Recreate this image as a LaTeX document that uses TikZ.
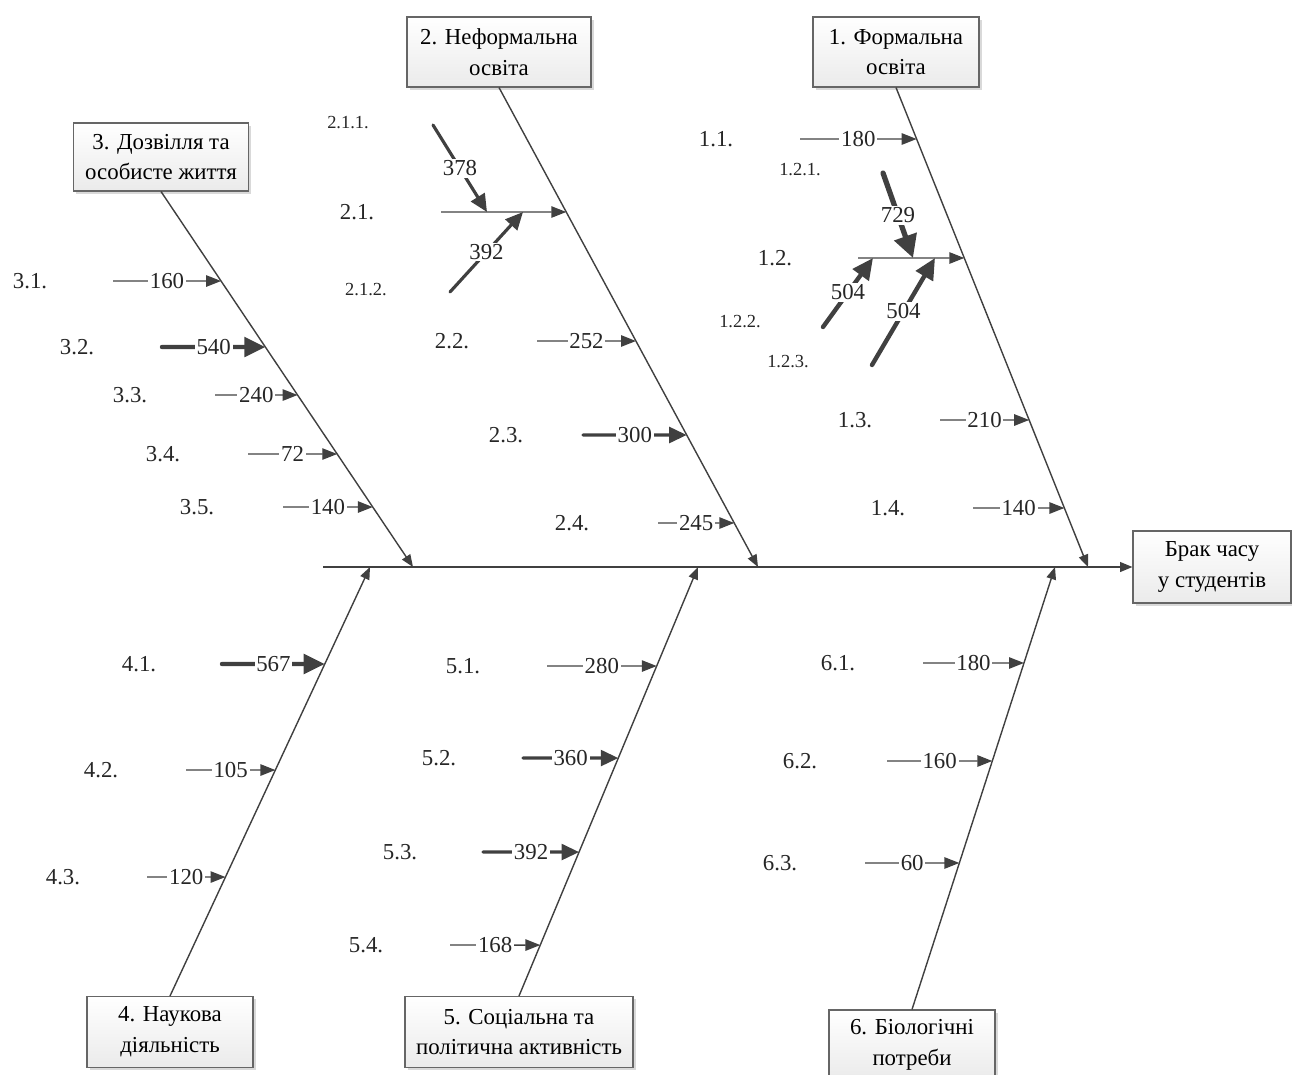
\documentclass[tikz,border=0pt]{standalone}
\usepackage{fontspec}
\setmainfont{Liberation Serif}
\usetikzlibrary{arrows.meta, shadows}
\definecolor{ink}{HTML}{404040}

\begin{document}
\begin{tikzpicture}[
  x=0.02cm, y=-0.02cm,
  cause/.style={draw=black!60, line width=0.6pt, top color=white, bottom color=black!8,
    drop shadow={shadow xshift=1.5pt, shadow yshift=-1.5pt, opacity=0.3},
    align=center, inner sep=0pt, font=\fontsize{13}{17.5}\selectfont},
  num/.style={font=\fontsize{13}{15}\selectfont, text=black!85},
  subnum/.style={font=\fontsize{10.5}{12}\selectfont, text=black!85},
  val/.style={midway, fill=white, inner sep=1pt, font=\fontsize{13}{15}\selectfont, text=black!85},
  bone/.style={draw=ink, line width=0.8pt, -{Triangle[length=7pt, width=5.5pt]}},
  minor/.style={draw=ink, line width=0.8pt, -{Triangle[length=8.5pt, width=6.5pt]}},
  medium/.style={draw=ink, line width=1.8pt, line cap=round, -{Triangle[length=10pt, width=9pt]}},
  major/.style={draw=ink, line width=2.5pt, line cap=round, -{Triangle[length=12pt, width=11pt]}},
  heavy/.style={draw=ink, line width=3pt, line cap=round, -{Triangle[length=13pt, width=13pt]}}
]
  \useasboundingbox (0,0) rectangle (1292,1075);

  % Effect and spine
  \node[cause, minimum width=3.16cm, minimum height=1.44cm] (eff) at (1212,567) {Брак часу\\у студентів};
  \coordinate (tail) at (323,567);
  \draw[bone, line width=1pt] (tail) -- (eff.west);

  % Category boxes
  \node[cause, minimum width=3.32cm, minimum height=1.4cm] (c1) at (896,52) {1. Формальна\\освіта};
  \node[cause, minimum width=3.68cm, minimum height=1.4cm] (c2) at (499,52) {2. Неформальна\\освіта};
  \node[cause, minimum width=3.5cm, minimum height=1.36cm] (c3) at (161,157) {3. Дозвілля та\\особисте життя};
  \node[cause, minimum width=3.32cm, minimum height=1.42cm] (c4) at (170,1032) {4. Наукова\\діяльність};
  \node[cause, minimum width=4.56cm, minimum height=1.42cm] (c5) at (519,1032) {5. Соціальна та\\політична активність};
  \node[cause, minimum width=3.32cm, minimum height=1.4cm] (c6) at (912,1045) {6. Біологічні\\потреби};

  % Where the bones meet the spine
  \coordinate (s1) at (1088,567);
  \coordinate (s2) at (758,567);
  \coordinate (s3) at (413,567);
  \coordinate (s4) at (370,567);
  \coordinate (s5) at (698,567);
  \coordinate (s6) at (1055,567);

  \draw[bone] (c1.south) -- (s1);
  \draw[bone] (c2.south) -- (s2);
  \draw[bone] (c3.south) -- (s3);
  \draw[bone] (c4.north) -- (s4);
  \draw[bone] (c5.north) -- (s5);
  \draw[bone] (c6.north) -- (s6);

  % 1. Formal education
  \node[num] (l11) at (716,139) {1.1.};
  \coordinate (a11) at (800,139);
  \coordinate (p11) at (intersection of c1.south--s1 and 0,139--100,139);
  \draw[minor] (a11) -- node[val] (v11) {180} (p11);

  \node[num] (l12) at (775,258) {1.2.};
  \coordinate (a12) at (858,258);
  \coordinate (p12) at (intersection of c1.south--s1 and 0,258--100,258);
  \draw[minor] (a12) -- (p12);

  \node[subnum] (l121) at (800,170) {1.2.1.};
  \coordinate (a121) at (883,173);
  \coordinate (t121) at (913,258);
  \draw[heavy] (a121) -- node[val] (v121) {729} (t121);

  \node[subnum] (l122) at (740,322) {1.2.2.};
  \coordinate (a122) at (823,327);
  \coordinate (t122) at (873,258);
  \draw[major] (a122) -- node[val] (v122) {504} (t122);

  \node[subnum] (l123) at (788,362) {1.2.3.};
  \coordinate (a123) at (872,365);
  \coordinate (t123) at (935,258);
  \draw[major] (a123) -- node[val] (v123) {504} (t123);

  \node[num] (l13) at (855,420) {1.3.};
  \coordinate (a13) at (940,420);
  \coordinate (p13) at (intersection of c1.south--s1 and 0,420--100,420);
  \draw[minor] (a13) -- node[val] (v13) {210} (p13);

  \node[num] (l14) at (888,508) {1.4.};
  \coordinate (a14) at (973,508);
  \coordinate (p14) at (intersection of c1.south--s1 and 0,508--100,508);
  \draw[minor] (a14) -- node[val] (v14) {140} (p14);

  % 2. Informal education
  \node[num] (l21) at (357,212) {2.1.};
  \coordinate (a21) at (441,212);
  \coordinate (p21) at (intersection of c2.south--s2 and 0,212--100,212);
  \draw[minor] (a21) -- (p21);

  \node[subnum] (l211) at (348,123) {2.1.1.};
  \coordinate (a211) at (433,125);
  \coordinate (t211) at (487,212);
  \draw[medium] (a211) -- node[val] (v211) {378} (t211);

  \node[subnum] (l212) at (366,290) {2.1.2.};
  \coordinate (a212) at (450,292);
  \coordinate (t212) at (523,212);
  \draw[medium] (a212) -- node[val] (v212) {392} (t212);

  \node[num] (l22) at (452,341) {2.2.};
  \coordinate (a22) at (537,341);
  \coordinate (p22) at (intersection of c2.south--s2 and 0,341--100,341);
  \draw[minor] (a22) -- node[val] (v22) {252} (p22);

  \node[num] (l23) at (506,435) {2.3.};
  \coordinate (a23) at (583,435);
  \coordinate (p23) at (intersection of c2.south--s2 and 0,435--100,435);
  \draw[medium] (a23) -- node[val] (v23) {300} (p23);

  \node[num] (l24) at (572,523) {2.4.};
  \coordinate (a24) at (658,523);
  \coordinate (p24) at (intersection of c2.south--s2 and 0,523--100,523);
  \draw[minor] (a24) -- node[val] (v24) {245} (p24);

  % 3. Leisure and personal life
  \node[num] (l31) at (30,281) {3.1.};
  \coordinate (a31) at (113,281);
  \coordinate (p31) at (intersection of c3.south--s3 and 0,281--100,281);
  \draw[minor] (a31) -- node[val] (v31) {160} (p31);

  \node[num] (l32) at (77,347) {3.2.};
  \coordinate (a32) at (162,347);
  \coordinate (p32) at (intersection of c3.south--s3 and 0,347--100,347);
  \draw[major] (a32) -- node[val] (v32) {540} (p32);

  \node[num] (l33) at (130,395) {3.3.};
  \coordinate (a33) at (215,395);
  \coordinate (p33) at (intersection of c3.south--s3 and 0,395--100,395);
  \draw[minor] (a33) -- node[val] (v33) {240} (p33);

  \node[num] (l34) at (163,454) {3.4.};
  \coordinate (a34) at (248,454);
  \coordinate (p34) at (intersection of c3.south--s3 and 0,454--100,454);
  \draw[minor] (a34) -- node[val] (v34) {72} (p34);

  \node[num] (l35) at (197,507) {3.5.};
  \coordinate (a35) at (283,507);
  \coordinate (p35) at (intersection of c3.south--s3 and 0,507--100,507);
  \draw[minor] (a35) -- node[val] (v35) {140} (p35);

  % 4. Research activity
  \node[num] (l41) at (139,664) {4.1.};
  \coordinate (a41) at (222,664);
  \coordinate (p41) at (intersection of c4.north--s4 and 0,664--100,664);
  \draw[major] (a41) -- node[val] (v41) {567} (p41);

  \node[num] (l42) at (101,770) {4.2.};
  \coordinate (a42) at (186,770);
  \coordinate (p42) at (intersection of c4.north--s4 and 0,770--100,770);
  \draw[minor] (a42) -- node[val] (v42) {105} (p42);

  \node[num] (l43) at (63,877) {4.3.};
  \coordinate (a43) at (147,877);
  \coordinate (p43) at (intersection of c4.north--s4 and 0,877--100,877);
  \draw[minor] (a43) -- node[val] (v43) {120} (p43);

  % 5. Social and political activity
  \node[num] (l51) at (463,666) {5.1.};
  \coordinate (a51) at (547,666);
  \coordinate (p51) at (intersection of c5.north--s5 and 0,666--100,666);
  \draw[minor] (a51) -- node[val] (v51) {280} (p51);

  \node[num] (l52) at (439,758) {5.2.};
  \coordinate (a52) at (523,758);
  \coordinate (p52) at (intersection of c5.north--s5 and 0,758--100,758);
  \draw[medium] (a52) -- node[val] (v52) {360} (p52);

  \node[num] (l53) at (400,852) {5.3.};
  \coordinate (a53) at (483,852);
  \coordinate (p53) at (intersection of c5.north--s5 and 0,852--100,852);
  \draw[medium] (a53) -- node[val] (v53) {392} (p53);

  \node[num] (l54) at (366,945) {5.4.};
  \coordinate (a54) at (450,945);
  \coordinate (p54) at (intersection of c5.north--s5 and 0,945--100,945);
  \draw[minor] (a54) -- node[val] (v54) {168} (p54);

  % 6. Biological needs
  \node[num] (l61) at (838,663) {6.1.};
  \coordinate (a61) at (923,663);
  \coordinate (p61) at (intersection of c6.north--s6 and 0,663--100,663);
  \draw[minor] (a61) -- node[val] (v61) {180} (p61);

  \node[num] (l62) at (800,761) {6.2.};
  \coordinate (a62) at (887,761);
  \coordinate (p62) at (intersection of c6.north--s6 and 0,761--100,761);
  \draw[minor] (a62) -- node[val] (v62) {160} (p62);

  \node[num] (l63) at (780,863) {6.3.};
  \coordinate (a63) at (865,863);
  \coordinate (p63) at (intersection of c6.north--s6 and 0,863--100,863);
  \draw[minor] (a63) -- node[val] (v63) {60} (p63);
\end{tikzpicture}
\end{document}
